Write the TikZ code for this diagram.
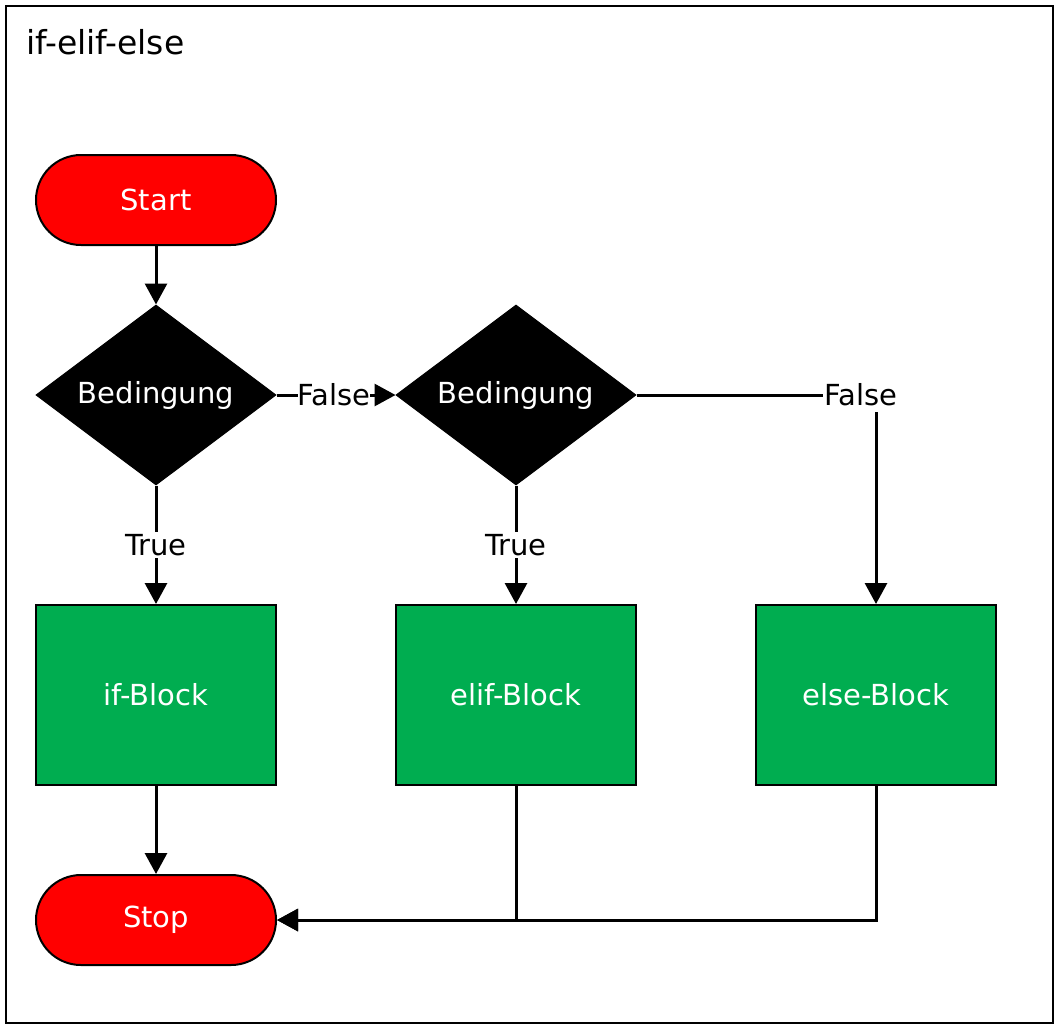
\documentclass[tikz,border=0pt]{standalone}
\usepackage{fontspec}
\setmainfont{DejaVu Sans}
\usetikzlibrary{shapes.geometric,arrows.meta}
\definecolor{termred}{RGB}{255,0,0}
\definecolor{blockgreen}{RGB}{0,173,80}
\tikzset{
  txt/.style={font=\fontsize{29}{34}\selectfont},
  term/.style={txt, draw=black, line width=2pt, fill=termred, text=white, minimum width=240pt, minimum height=90pt, rounded corners=45pt, inner sep=0pt},
  cond/.style={txt, diamond, draw=black, line width=1pt, fill=black, text=white, minimum width=240pt, minimum height=180pt, aspect=1.333, inner sep=0pt},
  block/.style={txt, draw=black, line width=2pt, fill=blockgreen, text=white, minimum width=240pt, minimum height=180pt, inner sep=0pt},
  lbl/.style={txt, fill=white, text=black, inner sep=2pt},
  conn/.style={line width=3pt, -{Triangle[length=21pt,width=22pt]}}
}
\begin{document}
\begin{tikzpicture}[x=1pt,y=-1pt]
\useasboundingbox (0,0) rectangle (1059,1026);
\draw[line width=2pt] (6,6) rectangle (1053,1023);
\node[font=\fontsize{33}{38}\selectfont, anchor=west, inner sep=0pt] (title) at (26,42) {if-elif-else};
\node[term] (start) at (156,200) {Start};
\node[cond] (d1) at (156,395) {Bedingung};
\node[cond] (d2) at (516,395) {Bedingung};
\node[block] (ifb) at (156,695) {if-Block};
\node[block] (elifb) at (516,695) {elif-Block};
\node[block] (elseb) at (876,695) {else-Block};
\node[term] (stop) at (156,920) {Stop};
\draw[conn] (start) -- (d1);
\draw[conn] (d1) -- node[lbl] {True} (ifb);
\draw[conn] (d2) -- node[lbl] {True} (elifb);
\draw[conn] (d1.east) -- node[lbl, inner xsep=0pt, xshift=-2pt] {False} (d2.west);
\draw[conn] (d2.east) -| node[lbl, pos=0.5, xshift=-15pt, inner ysep=6pt] {False} (elseb.north);
\draw[conn] (ifb) -- (stop);
\draw[conn] (elifb.south) |- (stop.east);
\draw[conn] (elseb.south) |- (stop.east);
\end{tikzpicture}
\end{document}
